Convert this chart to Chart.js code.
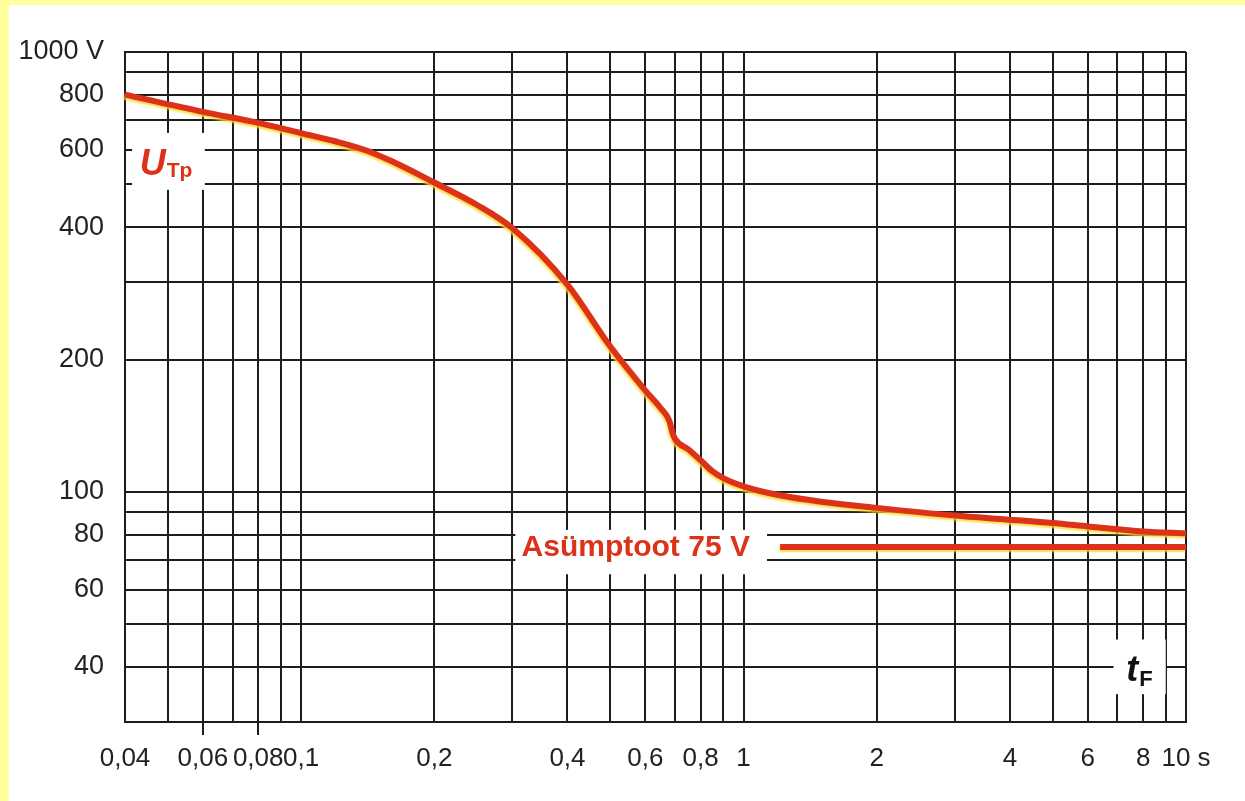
<!DOCTYPE html>
<html>
<head>
<meta charset="utf-8">
<script src="https://cdn.jsdelivr.net/npm/chart.js@4/dist/chart.umd.min.js"></script>
<style>
  html, body { margin: 0; padding: 0; width: 1245px; height: 801px; overflow: hidden; background: #ffff9e; }
  #sheet { position: absolute; left: 9px; top: 5px; width: 1236px; height: 796px; background: #ffffff; }
  canvas { display: block; }
</style>
</head>
<body>
<div id="sheet"><canvas id="chart" width="1236" height="796"></canvas></div>
<script>
// Touch voltage U_Tp against disconnection time t_F
const timeValues    = [0.04, 0.06, 0.08, 0.1, 0.12, 0.14, 0.16, 0.2, 0.25, 0.3, 0.4, 0.5, 0.6, 0.65, 0.68, 0.69, 0.7, 0.75, 0.8, 0.85, 0.9, 1.0, 1.2, 1.5, 2, 3, 4, 5, 6, 7, 8, 10];
const voltageValues = [800, 731, 690, 654, 626, 598, 565, 505, 449, 398, 296, 214, 170, 155, 145, 137, 132, 125, 118, 111.5, 107.5, 103, 98.4, 95, 92, 88.4, 86.5, 85, 83.5, 82.3, 81.3, 80.5];

// Asymptote at 75 V
const asymptoteTimes    = [1.21, 10];
const asymptoteVoltages = [75, 75];

// Grid lines and tick labels (logarithmic axes)
const xGridValues  = [0.04, 0.05, 0.06, 0.07, 0.08, 0.09, 0.1, 0.2, 0.3, 0.4, 0.5, 0.6, 0.7, 0.8, 0.9, 1, 2, 3, 4, 5, 6, 7, 8, 9, 10];
const xLabelValues = [0.04, 0.06, 0.08, 0.1, 0.2, 0.4, 0.6, 0.8, 1, 2, 4, 6, 8, 10];
const xLabelTexts  = ['0,04', '0,06', '0,08', '0,1', '0,2', '0,4', '0,6', '0,8', '1', '2', '4', '6', '8', '10 s'];
const xTickMarkValues = [0.06, 0.08];

const yGridValues  = [30, 40, 50, 60, 70, 80, 90, 100, 200, 300, 400, 500, 600, 700, 800, 900, 1000];
const yLabelValues = [40, 60, 80, 100, 200, 400, 600, 800, 1000];
const yLabelTexts  = ['40', '60', '80', '100', '200', '400', '600', '800', '1000 V'];

const RED = '#dc3219';
const INK = '#1d1d1d';
const FONT = '"Liberation Sans", Arial, Helvetica, sans-serif';

const same = (a, b) => Math.abs(Math.log10(a) - Math.log10(b)) < 1e-6;
const labelFor = (values, texts) => v => {
  const i = values.findIndex(x => same(x, v));
  return i >= 0 ? texts[i] : '';
};

// Yellow fringe along the red lines
const fringe = {
  id: 'fringe',
  beforeDatasetDraw(chart) {
    const c = chart.ctx;
    c.save();
    c.shadowColor = 'rgba(255, 214, 40, 0.85)';
    c.shadowOffsetX = -1;
    c.shadowOffsetY = 2;
    c.shadowBlur = 2;
  },
  afterDatasetDraw(chart) { chart.ctx.restore(); }
};

// Captions sitting on white patches cut out of the grid
const captions = {
  id: 'captions',
  afterDatasetsDraw(chart) {
    const c = chart.ctx, xs = chart.scales.x, ys = chart.scales.y;
    const X = t => xs.getPixelForValue(t), Y = v => ys.getPixelForValue(v);
    const patch = (t0, v0, t1, v1) => {
      c.fillStyle = '#ffffff';
      c.fillRect(X(t0), Y(v0), X(t1) - X(t0), Y(v1) - Y(v0));
    };
    c.save();

    // U_Tp
    patch(0.0415, 655, 0.0606, 486);
    c.fillStyle = RED;
    c.textBaseline = 'alphabetic';
    c.textAlign = 'left';
    c.font = 'italic bold 36px ' + FONT;
    const ux = X(0.0432), uy = Y(525);
    c.fillText('U', ux, uy);
    const uw = c.measureText('U').width;
    c.font = 'bold 21px ' + FONT;
    c.fillText('Tp', ux + uw + 1, uy + 2);

    // Asymptote caption
    patch(0.305, 82, 1.13, 65);
    c.fillStyle = RED;
    c.font = 'bold 30px ' + FONT;
    c.textBaseline = 'middle';
    c.fillText('Asümptoot 75 V', X(0.315), Y(74.5));

    // t_F
    patch(6.86, 46.2, 9.0, 34.7);
    c.fillStyle = '#111';
    c.textBaseline = 'alphabetic';
    c.font = 'italic bold 36px ' + FONT;
    const tx = X(7.33), ty = Y(37.1);
    c.fillText('t', tx, ty);
    const tw = c.measureText('t').width;
    c.font = 'bold 22px ' + FONT;
    c.fillText('F', tx + tw + 1, ty + 5);

    c.restore();
  }
};

const curve = timeValues.map((t, i) => ({ x: t, y: voltageValues[i] }));
const asymptote = asymptoteTimes.map((t, i) => ({ x: t, y: asymptoteVoltages[i] }));

new Chart(document.getElementById('chart'), {
  type: 'line',
  data: {
    datasets: [
      { label: 'U_Tp', data: curve, borderColor: RED, borderWidth: 6, pointRadius: 0,
        cubicInterpolationMode: 'monotone', clip: false },
      { label: 'Asümptoot 75 V', data: asymptote, borderColor: RED, borderWidth: 6, pointRadius: 0, clip: false }
    ]
  },
  options: {
    responsive: false,
    animation: false,
    events: [],
    layout: { padding: { top: 47, right: 59, bottom: 0, left: 0 } },
    plugins: { legend: { display: false }, tooltip: { enabled: false }, title: { display: false } },
    scales: {
      x: {
        type: 'logarithmic',
        min: 0.04,
        max: 10,
        afterBuildTicks: s => { s.ticks = xGridValues.map(v => ({ value: v })); },
        afterFit: s => { s.height = 79; },
        grid: {
          color: INK,
          lineWidth: 2,
          drawTicks: true,
          tickLength: 13,
          tickWidth: 2,
          tickColor: ctx => (ctx.tick && xTickMarkValues.some(v => same(v, ctx.tick.value))) ? INK : 'rgba(0,0,0,0)'
        },
        border: { color: INK, width: 2 },
        ticks: {
          autoSkip: false,
          maxRotation: 0,
          minRotation: 0,
          padding: 8,
          color: '#222',
          font: { family: FONT, size: 26 },
          callback: labelFor(xLabelValues, xLabelTexts)
        }
      },
      y: {
        type: 'logarithmic',
        min: 30,
        max: 1000,
        afterBuildTicks: s => { s.ticks = yGridValues.map(v => ({ value: v })); },
        afterFit: s => { s.width = 116; },
        grid: { color: INK, lineWidth: 2, drawTicks: false },
        border: { color: INK, width: 2 },
        ticks: {
          autoSkip: false,
          padding: 21,
          color: '#222',
          font: { family: FONT, size: 27 },
          callback: labelFor(yLabelValues, yLabelTexts)
        }
      }
    }
  },
  plugins: [fringe, captions]
});
</script>
</body>
</html>
